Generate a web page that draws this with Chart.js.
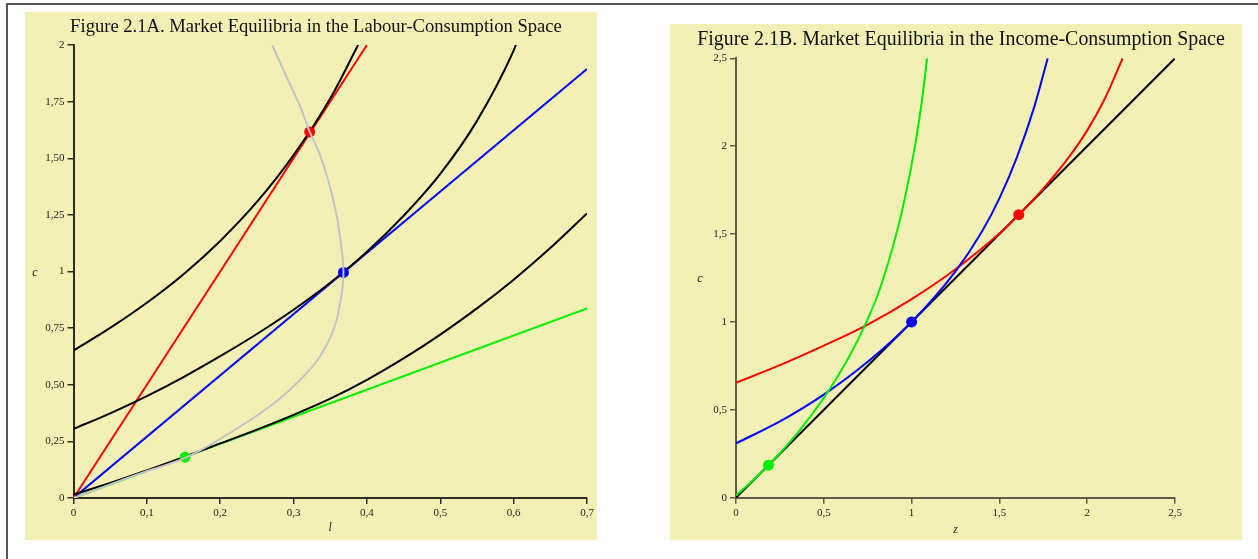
<!DOCTYPE html>
<html>
<head>
<meta charset="utf-8">
<script src="https://cdn.jsdelivr.net/npm/chart.js@4.4.1/dist/chart.umd.min.js"></script>
<style>
  html, body { margin:0; padding:0; background:#ffffff; width:1258px; height:559px; overflow:hidden; }
  #frame { position:absolute; left:6px; top:3px; width:1300px; height:600px; border-top:2px solid #555; border-left:2px solid #555; }
  .panel { position:absolute; background:#f2f0b4; }
  #pa { left:25px; top:12px; width:572px; height:528px; }
  #pb { left:670px; top:24px; width:572px; height:516px; }
</style>
</head>
<body>
<div id="frame"></div>
<div class="panel" id="pa"><canvas id="ca"></canvas></div>
<div class="panel" id="pb"><canvas id="cb"></canvas></div>
<script>
// ---------- Panel A: labour (l) - consumption (c) ----------
const titleA = 'Figure 2.1A. Market Equilibria in the Labour-Consumption Space';
const lTicks = [0, 0.1, 0.2, 0.3, 0.4, 0.5, 0.6, 0.7];
const lTickLabels = ['0', '0,1', '0,2', '0,3', '0,4', '0,5', '0,6', '0,7'];
const cTicksA = [0, 0.25, 0.5, 0.75, 1, 1.25, 1.5, 1.75, 2];
const cTickLabelsA = ['0', '0,25', '0,50', '0,75', '1', '1,25', '1,50', '1,75', '2'];

// indifference curves (black)
const icHigh_l = [0, 0.05, 0.1, 0.15, 0.2, 0.25, 0.3, 0.35, 0.388];
const icHigh_c = [0.651, 0.751, 0.862, 0.988, 1.135, 1.307, 1.514, 1.764, 2.0];
const icMid_l = [0, 0.05, 0.1, 0.15, 0.2, 0.25, 0.3, 0.35, 0.4, 0.45, 0.5, 0.55, 0.6, 0.603];
const icMid_c = [0.305, 0.374, 0.450, 0.534, 0.626, 0.724, 0.831, 0.950, 1.087, 1.246, 1.431, 1.665, 1.975, 2.0];
const icLow_l = [0, 0.05, 0.1, 0.15, 0.2, 0.25, 0.3, 0.35, 0.4, 0.45, 0.5, 0.55, 0.6, 0.65, 0.7];
const icLow_c = [0.015, 0.066, 0.122, 0.180, 0.241, 0.302, 0.367, 0.4385, 0.522, 0.6165, 0.7215, 0.837, 0.964, 1.1035, 1.2565];
// budget lines through the origin
const budgetRed_l = [0, 0.4];    const budgetRed_c = [0, 2.0];
const budgetBlue_l = [0, 0.7];   const budgetBlue_c = [0, 1.894];
const budgetGreen_l = [0, 0.7];  const budgetGreen_c = [0, 0.837];
// locus of equilibria (grey)
const locus_l = [0, 0.086, 0.152, 0.204, 0.268, 0.309, 0.336, 0.356, 0.365, 0.368, 0.365, 0.358, 0.347, 0.335, 0.322, 0.309, 0.29, 0.271];
const locus_c = [0, 0.103, 0.177, 0.269, 0.405, 0.522, 0.625, 0.758, 0.89, 0.996, 1.111, 1.258, 1.405, 1.523, 1.616, 1.729, 1.862, 2.0];
// equilibrium points
const eqA_l = [0.322, 0.368, 0.152];
const eqA_c = [1.616, 0.996, 0.18];

// ---------- Panel B: income (z) - consumption (c) ----------
const titleB = 'Figure 2.1B. Market Equilibria in the Income-Consumption Space';
const zTicks = [0, 0.5, 1, 1.5, 2, 2.5];
const zTickLabels = ['0', '0,5', '1', '1,5', '2', '2,5'];
const cTicksB = [0, 0.5, 1, 1.5, 2, 2.5];
const cTickLabelsB = ['0', '0,5', '1', '1,5', '2', '2,5'];

const icGreen_z = [0, 0.1, 0.185, 0.35, 0.5, 0.63, 0.74, 0.82, 0.905, 0.96, 1.02, 1.06, 1.088];
const icGreen_c = [0.012, 0.1025, 0.185, 0.368, 0.568, 0.776, 0.993, 1.19, 1.47, 1.696, 2.005, 2.267, 2.5];
const icBlue_z = [0, 0.25, 0.5, 0.75, 1.0, 1.25, 1.4, 1.5, 1.6, 1.7, 1.775];
const icBlue_c = [0.309, 0.434, 0.5865, 0.773, 1.0, 1.288, 1.513, 1.703, 1.938, 2.228, 2.5];
const icRed_z = [0, 0.25, 0.5, 0.75, 1.0, 1.25, 1.5, 1.61, 1.75, 1.9, 2.0, 2.1, 2.202];
const icRed_c = [0.654, 0.754, 0.865, 0.985, 1.13, 1.30, 1.503, 1.61, 1.758, 1.943, 2.09, 2.27, 2.5];
const diag_z = [0, 2.5];
const diag_c = [0, 2.5];
const eqB_z = [1.61, 1.0, 0.185];
const eqB_c = [1.61, 1.0, 0.185];

const eqColors = ['#ff0000', '#0000ff', '#00ee00'];

// ---------- helpers ----------
const xy = (xs, ys) => xs.map((x, i) => ({ x: x, y: ys[i] }));
const serif = '"Liberation Serif", "Times New Roman", serif';

// draws the panel title and the (upright, italic) axis names as canvas text
const panelText = {
  id: 'panelText',
  afterDraw(chart, args, o) {
    const ctx = chart.ctx, a = chart.chartArea;
    ctx.save();
    ctx.fillStyle = '#111';
    ctx.textAlign = 'center';
    ctx.textBaseline = 'middle';
    ctx.font = o.titleSize + 'px ' + serif;
    ctx.fillText(o.title, o.titleX, o.titleY);
    ctx.fillStyle = '#222';
    ctx.font = 'italic 12px ' + serif;
    ctx.fillText(o.xName, (a.left + a.right) / 2, o.xNameY);
    ctx.fillText(o.yName, o.yNameX, (a.top + a.bottom) / 2 + 1);
    ctx.restore();
  }
};

function line(xs, ys, color, order, smooth) {
  return {
    data: xy(xs, ys), showLine: true, borderColor: color, borderWidth: 2,
    pointRadius: 0, pointHoverRadius: 0, fill: false, order: order,
    tension: smooth ? 0.35 : 0,
    cubicInterpolationMode: smooth === 'mono' ? 'monotone' : 'default'
  };
}
function dots(xs, ys, order) {
  return {
    data: xy(xs, ys), showLine: false, pointRadius: 5.5, pointBorderWidth: 0,
    pointBackgroundColor: eqColors, pointBorderColor: eqColors, order: order
  };
}
function axis(ticks, labels, min, max, axisColor, fixed) {
  return {
    type: 'linear', min: min, max: max,
    afterBuildTicks: (s) => { s.ticks = ticks.map(v => ({ value: v })); },
    afterFit: (s) => { if (s.isHorizontal()) s.height = fixed; else s.width = fixed; },
    ticks: {
      autoSkip: false, maxRotation: 0, padding: 3,
      color: '#222', font: { family: serif, size: 11 },
      callback: (v, i) => labels[i]
    },
    grid: { drawOnChartArea: false, drawTicks: true, tickLength: 6, color: axisColor, lineWidth: 1.5 },
    border: { display: true, color: axisColor, width: 2 },
    title: { display: false }
  };
}
function opts(pad, text, xAxis, yAxis) {
  return {
    responsive: true, maintainAspectRatio: false, animation: false,
    layout: { padding: pad },
    plugins: { legend: { display: false }, tooltip: { enabled: false }, title: { display: false }, panelText: text },
    scales: { x: xAxis, y: yAxis }
  };
}

// ---------- Chart A ----------
new Chart(document.getElementById('ca'), {
  type: 'scatter',
  plugins: [panelText],
  data: { datasets: [
    line(locus_l, locus_c, '#c4c4c4', 0, true),
    dots(eqA_l, eqA_c, 1),
    line(icHigh_l, icHigh_c, '#000000', 2, 'mono'),
    line(icMid_l, icMid_c, '#000000', 2, 'mono'),
    line(icLow_l, icLow_c, '#000000', 2, 'mono'),
    line(budgetRed_l, budgetRed_c, '#ff0000', 3, false),
    line(budgetBlue_l, budgetBlue_c, '#0000ff', 3, false),
    line(budgetGreen_l, budgetGreen_c, '#00ee00', 3, false)
  ] },
  options: opts({ left: 0, right: 10, top: 33, bottom: 0 },
    { title: titleA, titleSize: 18.6, titleX: 291, titleY: 15, xName: 'l', xNameY: 516, yName: 'c', yNameX: 10 },
    axis(lTicks, lTickLabels, 0, 0.7, '#2e2c20', 42),
    axis(cTicksA, cTickLabelsA, 0, 2, '#2e2c20', 48.5))
});

// ---------- Chart B ----------
new Chart(document.getElementById('cb'), {
  type: 'scatter',
  plugins: [panelText],
  data: { datasets: [
    dots(eqB_z, eqB_c, 0),
    line(icGreen_z, icGreen_c, '#00ee00', 1, 'mono'),
    line(icBlue_z, icBlue_c, '#0000ff', 1, 'mono'),
    line(icRed_z, icRed_c, '#ff0000', 1, 'mono'),
    line(diag_z, diag_c, '#000000', 2, false)
  ] },
  options: opts({ left: 0, right: 67, top: 34.3, bottom: 0 },
    { title: titleB, titleSize: 19.9, titleX: 291, titleY: 16, xName: 'z', xNameY: 506, yName: 'c', yNameX: 30 },
    axis(zTicks, zTickLabels, 0, 2.5, '#5e5a48', 42.3),
    axis(cTicksB, cTickLabelsB, 0, 2.5, '#5e5a48', 66))
});
</script>
</body>
</html>
